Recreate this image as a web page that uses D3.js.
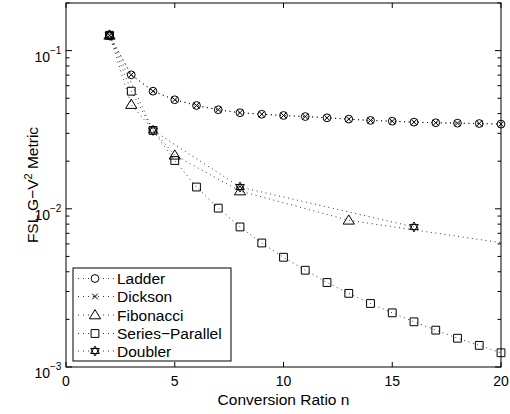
<!DOCTYPE html>
<html><head><meta charset="utf-8">
<script src="https://cdn.jsdelivr.net/npm/d3@7"></script>
<style>body{margin:0;background:#fff}svg{display:block}text{font-family:"Liberation Sans",Arial,Helvetica,sans-serif;fill:#000}</style>
</head><body>
<script>
const nAll = [2,3,4,5,6,7,8,9,10,11,12,13,14,15,16,17,18,19,20];
const ladder = [0.125,0.0703,0.0554,0.0489,0.045,0.0423,0.0405,0.0396,0.0389,0.0383,0.0376,0.0369,0.0362,0.0358,0.0353,0.0350,0.0348,0.0346,0.0343];
const dickson = [0.125,0.0703,0.0554,0.0489,0.045,0.0423,0.0405,0.0396,0.0389,0.0383,0.0376,0.0369,0.0362,0.0358,0.0353,0.0350,0.0348,0.0346,0.0343];
const seriesParallel = [0.125,0.0554,0.0313,0.0202,0.01373,0.0101,0.00768,0.00608,0.00494,0.00409,0.00342,0.00292,0.00252,0.0022,0.00193,0.00171,0.00152,0.00137,0.00123];
const fibN = [2,3,5,8,13,21];
const fibonacci = [0.125,0.0456,0.0218,0.01295,0.00846,0.00583];
const doublerN = [2,4,8,16];
const doubler = [0.125,0.0313,0.01373,0.00768];
const xTicks = [0,5,10,15,20];
const yTicks = [1e-3,1e-2,1e-1];
const yTickExp = ["\u22123","\u22122","\u22121"];
const legendNames = ["Ladder","Dickson","Fibonacci","Series\u2212Parallel","Doubler"];

const W=510,H=414;
const L=66,R=501,T=3,B=367;
const x=d3.scaleLinear().domain([0,20]).range([L,R]);
const y=d3.scaleLog().domain([1e-3,0.2]).range([B,T]);

const svg=d3.select("body").append("svg").attr("width",W).attr("height",H);
svg.append("defs").append("clipPath").attr("id","clip").append("rect")
  .attr("x",L).attr("y",T).attr("width",R-L).attr("height",B-T);

function hexagram(r){
  const p=[];
  for(let k=0;k<2;k++){
    const pts=[];
    for(let i=0;i<3;i++){const a=(k?Math.PI/2:-Math.PI/2)+i*2*Math.PI/3;pts.push([r*Math.cos(a),r*Math.sin(a)]);}
    p.push("M"+pts.map(q=>q.join(",")).join("L")+"Z");
  }
  return p.join("");
}
const shapes={
  circle:(g)=>g.append("circle").attr("r",3.9),
  cross:(g)=>g.append("path").attr("d","M-2.8,-2.8L2.8,2.8M-2.8,2.8L2.8,-2.8"),
  triangle:(g)=>g.append("path").attr("d","M0,-5.4L5.6,3.8L-5.6,3.8Z"),
  square:(g)=>g.append("path").attr("d","M-3.9,-3.9H3.9V3.9H-3.9Z"),
  hexagram:(g)=>g.append("path").attr("d",hexagram(5))
};

const series=[
  {ns:nAll,vals:ladder,shape:"circle"},
  {ns:nAll,vals:dickson,shape:"cross"},
  {ns:fibN,vals:fibonacci,shape:"triangle"},
  {ns:nAll,vals:seriesParallel,shape:"square"},
  {ns:doublerN,vals:doubler,shape:"hexagram"}
];

const plot=svg.append("g").attr("clip-path","url(#clip)");
const line=d3.line().x(d=>x(d[0])).y(d=>y(d[1]));
series.forEach(s=>{
  const pts=s.ns.map((n,i)=>[n,s.vals[i]]);
  plot.append("path").attr("d",line(pts)).attr("fill","none")
    .attr("stroke","#000").attr("stroke-width",0.8).attr("stroke-dasharray","1,3.6");
});
series.forEach(s=>{
  s.ns.forEach((n,i)=>{
    if(n>20) return;
    const g=svg.append("g").attr("transform",`translate(${x(n)},${y(s.vals[i])})`)
      .attr("fill","none").attr("stroke","#000").attr("stroke-width",1);
    shapes[s.shape](g);
  });
});

const ax=svg.append("g").attr("stroke","#000").attr("stroke-width",1).attr("fill","none");
ax.append("rect").attr("x",L).attr("y",T).attr("width",R-L).attr("height",B-T);
xTicks.forEach(t=>{
  ax.append("line").attr("x1",x(t)).attr("x2",x(t)).attr("y1",B).attr("y2",B-5);
  ax.append("line").attr("x1",x(t)).attr("x2",x(t)).attr("y1",T).attr("y2",T+5);
});
const minor=[];
for(let e=-3;e<=-1;e++) for(let m=1;m<=9;m++){const v=m*Math.pow(10,e); if(v>=1e-3&&v<=0.2) minor.push(v);}
minor.forEach(v=>{
  const major=yTicks.some(t=>Math.abs(t-v)<1e-12);
  const len=major?6:3.5;
  ax.append("line").attr("x1",L).attr("x2",L+len).attr("y1",y(v)).attr("y2",y(v));
  ax.append("line").attr("x1",R).attr("x2",R-len).attr("y1",y(v)).attr("y2",y(v));
});

xTicks.forEach(t=>{
  svg.append("text").attr("x",x(t)).attr("y",B+19).attr("text-anchor","middle")
    .attr("font-size",14).text(t);
});
yTicks.forEach((t,i)=>{
  svg.append("text").attr("x",50).attr("y",y(t)+11).attr("text-anchor","end").attr("font-size",14).text("10");
  svg.append("text").attr("x",50).attr("y",y(t)+3).attr("font-size",10).text(yTickExp[i]);
});

svg.append("text").attr("x",(L+R)/2).attr("y",405).attr("text-anchor","middle").attr("font-size",15.5)
  .text("Conversion Ratio n");
const yt=svg.append("text").attr("transform",`translate(38,${(T+B)/2}) rotate(-90)`)
  .attr("text-anchor","middle").attr("font-size",15.5);
yt.append("tspan").text("FSL G\u2212V");
yt.append("tspan").attr("font-size",11).attr("dy",-6).text("2");
yt.append("tspan").attr("dy",6).text(" Metric");

const lg=svg.append("g");
lg.append("rect").attr("x",73).attr("y",268).attr("width",158).attr("height",93)
  .attr("fill","#fff").attr("stroke","#000").attr("stroke-width",1);
const ly=[278.5,296.5,315,333.5,351];
series.forEach((s,i)=>{
  lg.append("line").attr("x1",78).attr("x2",114).attr("y1",ly[i]).attr("y2",ly[i])
    .attr("stroke","#000").attr("stroke-width",0.8).attr("stroke-dasharray","1,4");
  const g=lg.append("g").attr("transform",`translate(95,${ly[i]})`).attr("fill","#fff").attr("stroke","#000").attr("stroke-width",1);
  shapes[s.shape](g);
  if(s.shape==="cross") g.attr("fill","none");
  lg.append("text").attr("x",117).attr("y",ly[i]+5.5).attr("font-size",15.5).text(legendNames[i]);
});
</script>
</body></html>
